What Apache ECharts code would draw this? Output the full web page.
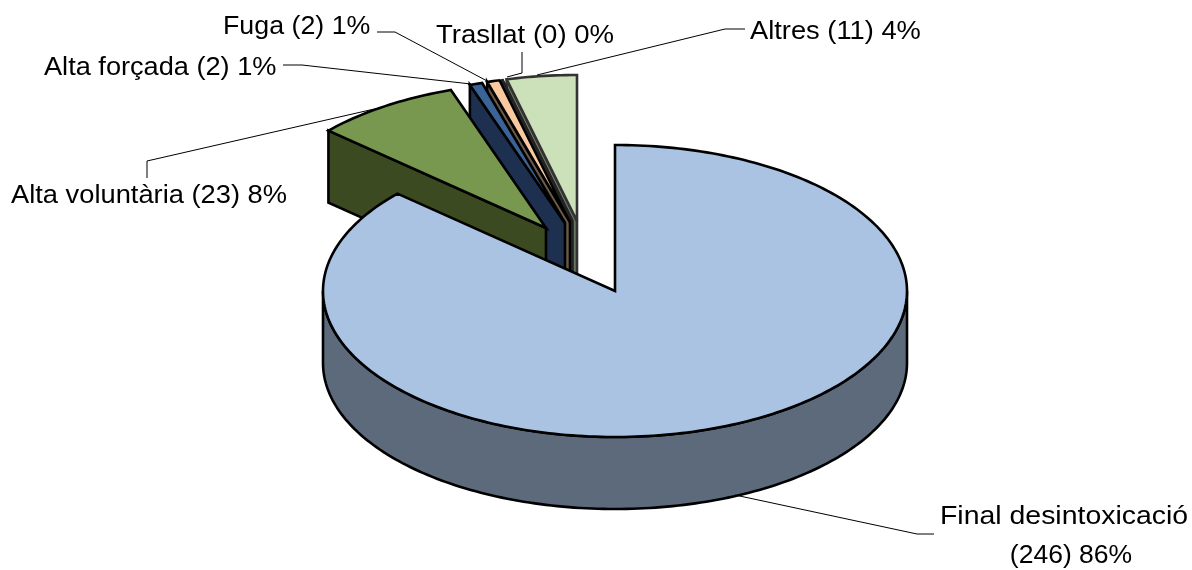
<!DOCTYPE html>
<html><head><meta charset="utf-8">
<style>html,body{margin:0;padding:0;background:#fff}#c{width:1192px;height:570px}</style>
<script src="https://cdn.jsdelivr.net/npm/echarts@6/dist/echarts.min.js"></script>
</head><body><div id="c"></div>
<script>
const categories = ['Final desintoxicació','Alta voluntària','Alta forçada','Fuga','Trasllat','Altres'];
const counts = [246,23,2,2,0,11];
const percents = [86,8,1,1,0,4];

// Styles and layout (separate from the data)
const topColors  = ['#AAC3E2','#77984E','#3A6498','#FAC9A0','#C9D2BE','#CCE0B9'];
const sideColors = ['#5C6A7C','#3B4A20','#1D3050','#6B5A48','#5E6A54','#6A7664'];
const edgeColors = ['#000','#000','#000','#000','#222','#333'];
const CX=615, CY=291, RX=292, RY=146, DEPTH=72, FONT_SIZE=25.5;
const apexes = [[615,291],[546,228],[565,223],[570,222],[572.5,221],[577,221]];
const labelLayout = [
  [[940,517,'left',1.115],[1071,556,'center',1.04]],
  [[11,196,'left',1.07]],
  [[44,68,'left',1.065]],
  [[223,27,'left',1.05]],
  [[436,36,'left',1.08]],
  [[750,32,'left',1.07]]
];
const leaders = [
  [[735,495],[917,534],[934,534]],
  [[147,178],[147,161],[383,107]],
  [[283,65],[302,65],[471,84]],
  [[377,32],[395,32],[489,82]],
  [[507,77],[522,73],[522,52]],
  [[537,75],[725,29],[745,29]]
];

const total = counts.reduce((a,b)=>a+b,0);
const starts = []; counts.reduce((acc,v,i)=>{starts[i]=acc; return acc+v;},0);
const rad = v => v/total*2*Math.PI;
const pt = (ax,ay,t,d=0) => [ax+RX*Math.sin(t), ay-RY*Math.cos(t)+d];
function arc(ax,ay,a,b,d=0){
  const n=Math.max(1,Math.ceil(Math.abs(b-a)/0.02)), out=[];
  for(let k=0;k<=n;k++) out.push(pt(ax,ay,a+(b-a)*k/n,d));
  return out;
}
function renderItem(params, api){
  const i = api.value(1), v = api.value(0);
  const a = rad(starts[i]), b = a+rad(v);
  const [ax,ay] = apexes[i];
  const edge = {stroke:edgeColors[i], lineWidth:2.6, lineJoin:'miter', miterLimit:4};
  const kids = [];
  const poly = (points,fill)=>kids.push({type:'polygon',shape:{points},style:{fill,...edge}});
  if(i>0){
    const p=pt(ax,ay,a);
    poly([[ax,ay],p,[p[0],p[1]+DEPTH],[ax,ay+DEPTH]],sideColors[i]);
  }
  const r0=Math.max(a,Math.PI/2), r1=Math.min(b,Math.PI*1.5);
  if(r1>r0) poly(arc(ax,ay,r0,r1).concat(arc(ax,ay,r1,r0,DEPTH)),sideColors[i]);
  poly([[ax,ay]].concat(arc(ax,ay,a,b)),topColors[i]);
  kids.push({type:'polyline',shape:{points:leaders[i]},style:{fill:'none',stroke:'#000',lineWidth:1},z2:10});
  const L=labelLayout[i];
  const full=categories[i]+' ('+v+') '+percents[i]+'%';
  const texts = L.length>1 ? [categories[i],'('+v+') '+percents[i]+'%'] : [full];
  texts.forEach((t,k)=>kids.push({type:'text',z2:11,x:L[k][0],y:L[k][1],scaleX:L[k][3],scaleY:1,style:{
    text:t,x:0,y:0,align:L[k][2],verticalAlign:'middle',
    fill:'#000',font:FONT_SIZE+'px "Liberation Sans", Arial, sans-serif'}}));
  return {type:'group',children:kids};
}
const chart = echarts.init(document.getElementById('c'),null,{renderer:'canvas'});
chart.setOption({
  animation:false,
  backgroundColor:'#fff',
  series:[{
    type:'custom',coordinateSystem:'none',renderItem,
    encode:{},silent:true,
    data:counts.map((v,i)=>[v,i]).reverse()
  }]
});
</script></body></html>
